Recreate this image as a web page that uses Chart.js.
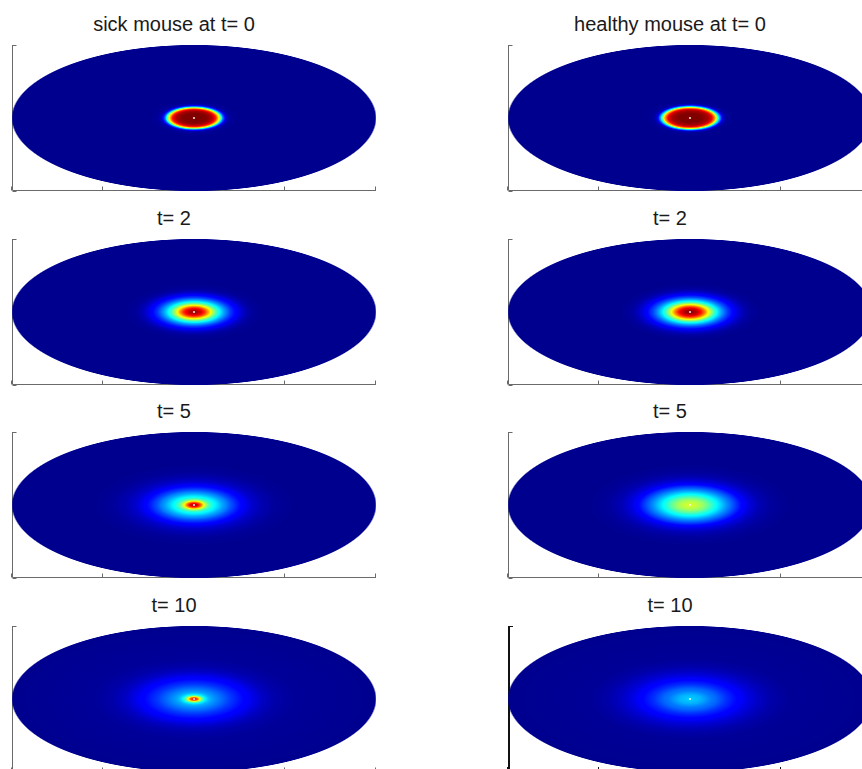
<!DOCTYPE html>
<html>
<head>
<meta charset="utf-8">
<script src="https://cdn.jsdelivr.net/npm/chart.js@4"></script>
<style>
html,body{margin:0;padding:0;background:#fff;width:862px;height:769px;overflow:hidden;position:relative}
.ttl{position:absolute;width:300px;text-align:center;font:20px "Liberation Sans",Arial,sans-serif;color:#1a1a1a;line-height:20px;white-space:nowrap}
canvas{position:absolute}
</style>
</head>
<body>
<script>
// ---------- data ----------
// normalized elliptical radius (0 = centre, 1 = rim of the ellipse)
const RADII = [0, 0.02, 0.04, 0.06, 0.08, 0.10, 0.12, 0.14, 0.16, 0.18, 0.20, 0.24, 0.28, 0.32, 0.38, 0.45, 0.55, 1.0];

// concentration (0..1, jet colour scale) read along the radius
const SICK_T0    = [1.00, 1.00, 1.00, 1.00, 0.98, 0.95, 0.84, 0.58, 0.22, 0.04, 0.01, 0, 0, 0, 0, 0, 0, 0];
const SICK_T2    = [0.98, 0.95, 0.90, 0.82, 0.70, 0.57, 0.46, 0.38, 0.30, 0.24, 0.18, 0.10, 0.04, 0.01, 0, 0, 0, 0];
const SICK_T5    = [0.97, 0.90, 0.75, 0.57, 0.46, 0.40, 0.36, 0.32, 0.28, 0.25, 0.21, 0.15, 0.10, 0.06, 0.03, 0.01, 0, 0];
const SICK_T10   = [0.90, 0.78, 0.52, 0.37, 0.31, 0.28, 0.26, 0.24, 0.22, 0.20, 0.18, 0.15, 0.12, 0.09, 0.05, 0.025, 0.01, 0];
const HEALTHY_T0  = [1.00, 1.00, 1.00, 1.00, 0.98, 0.96, 0.89, 0.68, 0.32, 0.07, 0.01, 0, 0, 0, 0, 0, 0, 0];
const HEALTHY_T2  = [1.00, 0.97, 0.93, 0.86, 0.76, 0.63, 0.51, 0.41, 0.33, 0.26, 0.20, 0.11, 0.05, 0.015, 0, 0, 0, 0];
const HEALTHY_T5  = [0.58, 0.58, 0.56, 0.54, 0.51, 0.47, 0.43, 0.39, 0.35, 0.31, 0.27, 0.20, 0.13, 0.08, 0.035, 0.012, 0, 0];
const HEALTHY_T10 = [0.33, 0.32, 0.31, 0.30, 0.28, 0.26, 0.24, 0.23, 0.21, 0.19, 0.17, 0.14, 0.11, 0.08, 0.05, 0.025, 0.008, 0];

const SICK_TITLES    = ['sick mouse at t= 0', 't= 2', 't= 5', 't= 10'];
const HEALTHY_TITLES = ['healthy mouse at t= 0', 't= 2', 't= 5', 't= 10'];
const SICK_SERIES    = [SICK_T0, SICK_T2, SICK_T5, SICK_T10];
const HEALTHY_SERIES = [HEALTHY_T0, HEALTHY_T2, HEALTHY_T5, HEALTHY_T10];

const X_TICKS = [-2, -1, 0, 1, 2];
const Y_TICKS = [-1, 0, 1];
const ELLIPSE_A = 2;   // semi-axis along x (data units)
const ELLIPSE_B = 1;   // semi-axis along y (data units)
const SOURCE_POINT = [{x: 0, y: 0}];

// ---------- helpers ----------
function clamp01(v){ return Math.max(0, Math.min(1, v)); }
function jet(v){
  const r = clamp01(Math.min(4*v - 1.5, -4*v + 4.5));
  const g = clamp01(Math.min(4*v - 0.5, -4*v + 3.5));
  const b = clamp01(Math.min(4*v + 0.56, -4*v + 2.5));
  return [Math.round(r*255), Math.round(g*255), Math.round(b*255)];
}
function profileAt(profile, r){
  if (r <= RADII[0]) return profile[0];
  for (let k = 1; k < RADII.length; k++){
    if (r <= RADII[k]){
      const t = (r - RADII[k-1]) / (RADII[k] - RADII[k-1]);
      return profile[k-1] + t * (profile[k] - profile[k-1]);
    }
  }
  return profile[profile.length-1];
}

function heatPlugin(profile, axisColor, axisWidth){
  return {
    id: 'heatfield',
    beforeDatasetsDraw(chart){
      const ctx = chart.ctx, a = chart.chartArea;
      const xs = chart.scales.x, ys = chart.scales.y;
      ctx.save();
      // axes (y on the left, x at the bottom) with inward ticks
      ctx.strokeStyle = axisColor;
      ctx.lineWidth = axisWidth;
      const lx = Math.round(xs.getPixelForValue(xs.min)) + axisWidth/2;
      const by = Math.round(ys.getPixelForValue(ys.min)) - axisWidth/2;
      ctx.beginPath();
      ctx.moveTo(lx, Math.round(ys.getPixelForValue(ys.max)));
      ctx.lineTo(lx, by);
      ctx.lineTo(Math.round(xs.getPixelForValue(xs.max)), by);
      ctx.stroke();
      ctx.lineWidth = 1;
      ctx.beginPath();
      X_TICKS.forEach(t => {
        const px = Math.round(xs.getPixelForValue(t)) - 0.5;
        ctx.moveTo(px, by); ctx.lineTo(px, by - 4);
      });
      Y_TICKS.forEach(t => {
        const py = Math.round(ys.getPixelForValue(t)) + 0.5;
        ctx.moveTo(lx, py); ctx.lineTo(lx + 4, py);
      });
      ctx.stroke();
      // concentration field inside the ellipse
      const w = Math.round(a.right - a.left), h = Math.round(a.bottom - a.top);
      const off = document.createElement('canvas');
      off.width = w; off.height = h;
      const octx = off.getContext('2d');
      const img = octx.createImageData(w, h);
      const d = img.data;
      for (let j = 0; j < h; j++){
        const yv = ys.getValueForPixel(a.top + j + 0.5);
        for (let i = 0; i < w; i++){
          const xv = xs.getValueForPixel(a.left + i + 0.5);
          const nr = Math.hypot(xv/ELLIPSE_A, yv/ELLIPSE_B);
          const alpha = clamp01((1 - nr) * 110 + 0.5);
          if (alpha <= 0) continue;
          const c = jet(profileAt(profile, nr));
          const o = (j*w + i)*4;
          d[o] = c[0]; d[o+1] = c[1]; d[o+2] = c[2]; d[o+3] = Math.round(alpha*255);
        }
      }
      octx.putImageData(img, 0, 0);
      ctx.drawImage(off, a.left, a.top);
      ctx.restore();
    }
  };
}

// ---------- layout ----------
const ROW_TOP = [45, 239, 432, 626];
const COL_LEFT = [12, 508];
const PW = 364, PH = 146, PAD = 12;

function makePanel(col, row, title, profile){
  const left = COL_LEFT[col], top = ROW_TOP[row];
  const t = document.createElement('div');
  t.className = 'ttl';
  t.textContent = title;
  t.style.left = (left + 162 - 150) + 'px';
  t.style.top = (top - 31) + 'px';
  document.body.appendChild(t);

  const cv = document.createElement('canvas');
  cv.width = PW + 2*PAD; cv.height = PH + 2*PAD;
  cv.style.left = (left - PAD) + 'px';
  cv.style.top = (top - PAD) + 'px';
  cv.style.width = cv.width + 'px'; cv.style.height = cv.height + 'px';
  document.body.appendChild(cv);

  const strong = (col === 1 && row === 3);
  new Chart(cv, {
    type: 'scatter',
    data: { datasets: [{
      data: SOURCE_POINT,
      pointRadius: 1.1,
      pointBorderWidth: 0,
      backgroundColor: 'rgba(255,255,255,0.85)'
    }]},
    options: {
      responsive: false,
      animation: false,
      events: [],
      layout: { padding: PAD },
      plugins: { legend: {display: false}, tooltip: {enabled: false}, title: {display: false} },
      scales: {
        x: { type: 'linear', min: -ELLIPSE_A, max: ELLIPSE_A, display: false },
        y: { type: 'linear', min: -ELLIPSE_B, max: ELLIPSE_B, display: false }
      }
    },
    plugins: [heatPlugin(profile, strong ? '#111' : '#6a6a6a', strong ? 2 : 1)]
  });
}

for (let r = 0; r < 4; r++){
  makePanel(0, r, SICK_TITLES[r], SICK_SERIES[r]);
  makePanel(1, r, HEALTHY_TITLES[r], HEALTHY_SERIES[r]);
}
</script>
</body>
</html>
